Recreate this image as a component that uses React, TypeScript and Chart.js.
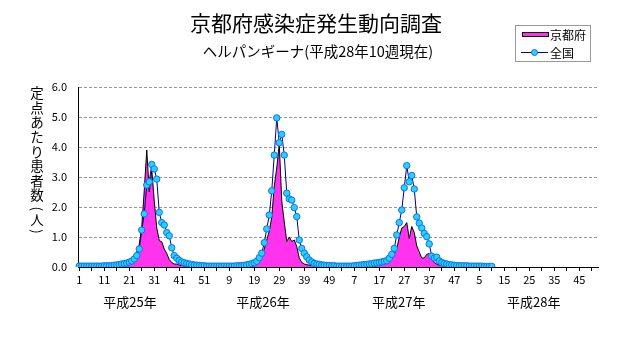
import React, { useEffect, useRef } from 'react';
import { Chart, registerables } from 'chart.js';

Chart.register(...registerables);

const FONT = "'Noto Sans CJK JP', 'Noto Sans', sans-serif";

const TITLE = '京都府感染症発生動向調査';
const SUBTITLE = 'ヘルパンギーナ(平成28年10週現在)';
const Y_TITLE = '定点あたり患者数(人)';
const SERIES_NAMES = ['京都府', '全国'];
const YEAR_LABELS = ['平成25年', '平成26年', '平成27年', '平成28年'];
const WEEKS_PER_YEAR = 52;
const Y_TICKS = [0, 1, 2, 3, 4, 5, 6];

// 京都府 (定点あたり)
const kyoto2013 = [
  0.02, 0.02, 0.02, 0.02, 0.01, 0.01, 0.01, 0.02, 0.02, 0.02, 0.02, 0.02, 0.02,
  0.02, 0.03, 0.03, 0.03, 0.03, 0.04, 0.06, 0.1, 0.17, 0.25, 0.5, 0.75, 1.35,
  2.55, 3.9, 2.5, 3.25, 2.2, 1.3, 0.88, 0.84, 0.6, 0.45, 0.25, 0.15, 0.1, 0.1,
  0.06, 0.05, 0.04, 0.03, 0.03, 0.02, 0.02, 0.02, 0.02, 0.01, 0.01, 0.01,
];
const kyoto2014 = [
  0.01, 0.01, 0.01, 0.01, 0.01, 0.01, 0.01, 0.01, 0.01, 0.01, 0.02, 0.02, 0.02,
  0.03, 0.04, 0.05, 0.07, 0.1, 0.14, 0.2, 0.3, 0.4, 0.6, 0.9, 1.2, 1.65,
  2.7, 3.3, 4.1, 2.2, 1.5, 0.85, 1.0, 0.85, 0.9, 0.68, 0.3, 0.15, 0.1, 0.08,
  0.06, 0.05, 0.04, 0.03, 0.03, 0.02, 0.02, 0.02, 0.01, 0.01, 0.01, 0.01,
];
const kyoto2015 = [
  0.01, 0.01, 0.01, 0.01, 0.01, 0.01, 0.01, 0.01, 0.01, 0.01, 0.02, 0.02, 0.02,
  0.02, 0.04, 0.05, 0.06, 0.08, 0.1, 0.15, 0.2, 0.3, 0.45, 0.6, 1.0, 1.3,
  1.35, 1.48, 0.95, 1.35, 1.15, 0.7, 0.5, 0.3, 0.3, 0.42, 0.45, 0.25, 0.15, 0.1,
  0.06, 0.05, 0.03, 0.03, 0.02, 0.02, 0.02, 0.01, 0.01, 0.01, 0.01, 0.01,
];
const kyoto2016 = [0.01, 0.01, 0.01, 0.01, 0.01, 0.01, 0.01, 0.01, 0.01, 0.01];

// 全国 (定点あたり)
const national2013 = [
  0.03, 0.03, 0.03, 0.03, 0.03, 0.03, 0.03, 0.03, 0.03, 0.03, 0.04, 0.04, 0.04,
  0.05, 0.06, 0.07, 0.08, 0.1, 0.11, 0.13, 0.16, 0.2, 0.27, 0.38, 0.6, 1.23,
  1.77, 2.73, 2.84, 3.42, 3.27, 2.93, 1.82, 1.48, 1.4, 1.15, 1.04, 0.64, 0.38, 0.29,
  0.22, 0.17, 0.14, 0.12, 0.1, 0.08, 0.07, 0.06, 0.05, 0.04, 0.04, 0.03,
];
const national2014 = [
  0.03, 0.03, 0.03, 0.03, 0.03, 0.03, 0.03, 0.03, 0.03, 0.03, 0.03, 0.04, 0.04,
  0.05, 0.06, 0.07, 0.09, 0.11, 0.14, 0.19, 0.31, 0.46, 0.81, 1.27, 1.73, 2.54,
  3.73, 4.97, 4.14, 4.42, 3.73, 2.46, 2.27, 2.23, 1.98, 1.68, 0.9, 0.62, 0.46, 0.34,
  0.23, 0.17, 0.12, 0.1, 0.09, 0.07, 0.06, 0.05, 0.05, 0.04, 0.04, 0.03,
];
const national2015 = [
  0.03, 0.03, 0.03, 0.03, 0.03, 0.03, 0.04, 0.05, 0.06, 0.07, 0.08, 0.09, 0.1,
  0.11, 0.13, 0.14, 0.15, 0.17, 0.19, 0.21, 0.29, 0.42, 0.62, 1.07, 1.48, 1.9,
  2.64, 3.38, 2.84, 3.05, 2.6, 1.67, 1.46, 1.3, 1.12, 1.01, 0.77, 0.36, 0.3, 0.33,
  0.2, 0.15, 0.12, 0.1, 0.08, 0.07, 0.06, 0.05, 0.04, 0.04, 0.04, 0.04,
];
const national2016 = [0.03, 0.03, 0.03, 0.03, 0.03, 0.03, 0.02, 0.02, 0.02, 0.02];

const weekLabels: string[] = [];
for (let y = 0; y < YEAR_LABELS.length; y++) {
  for (let w = 1; w <= WEEKS_PER_YEAR; w++) weekLabels.push(String(w));
}

const kyotoData = [...kyoto2013, ...kyoto2014, ...kyoto2015, ...kyoto2016];
const nationalData = [...national2013, ...national2014, ...national2015, ...national2016];

const PINK = '#FF33EE';
const NAVY = '#000080';
const DOT_FILL = '#33CCFF';
const DOT_EDGE = '#0077EE';

const decorPlugin = {
  id: 'decor',
  afterDraw(chart: any) {
    const ctx = chart.ctx as CanvasRenderingContext2D;
    const area = chart.chartArea;
    ctx.save();
    ctx.fillStyle = '#000';
    ctx.textBaseline = 'middle';

    // title & subtitle
    ctx.textAlign = 'center';
    ctx.font = `21px ${FONT}`;
    ctx.fillText(TITLE, 316, 23);
    ctx.font = `14.5px ${FONT}`;
    ctx.fillText(SUBTITLE, 318, 51);

    // y axis title (vertical)
    ctx.font = `13.5px ${FONT}`;
    const chars = Array.from(Y_TITLE);
    const step = 14.6;
    let cy = area.top + 6;
    const cx = 37;
    for (const ch of chars) {
      if (ch === '(' || ch === ')') {
        ctx.save();
        ctx.translate(cx, cy - (ch === '(' ? 1 : 3));
        ctx.rotate(Math.PI / 2);
        ctx.fillText(ch, 0, 0);
        ctx.restore();
        cy += step * 0.7;
      } else {
        ctx.fillText(ch, cx, cy);
        cy += step;
      }
    }

    // year labels
    ctx.font = `13px ${FONT}`;
    const xs = chart.scales.x;
    const yearCentersWeek = [20.3, 21.5, 23.8, 25.8];
    const cat = xs.width / weekLabels.length;
    YEAR_LABELS.forEach((lab, k) => {
      const idx = k * WEEKS_PER_YEAR + yearCentersWeek[k];
      const px = xs.getPixelForValue(Math.floor(idx)) + (idx % 1) * cat;
      ctx.fillText(lab, px, 302);
    });

    // legend box
    ctx.fillStyle = '#fff';
    ctx.fillRect(515.5, 25.5, 75, 36);
    ctx.strokeStyle = '#999';
    ctx.lineWidth = 1;
    ctx.strokeRect(515.5, 25.5, 75, 36);

    ctx.fillStyle = PINK;
    ctx.fillRect(522.5, 32.5, 26, 4);
    ctx.strokeStyle = '#000';
    ctx.strokeRect(522.5, 32.5, 26, 4);

    ctx.strokeStyle = NAVY;
    ctx.beginPath();
    ctx.moveTo(521, 52.5);
    ctx.lineTo(548, 52.5);
    ctx.stroke();
    ctx.beginPath();
    ctx.arc(534.5, 52.5, 3, 0, Math.PI * 2);
    ctx.fillStyle = DOT_FILL;
    ctx.fill();
    ctx.strokeStyle = DOT_EDGE;
    ctx.stroke();

    ctx.fillStyle = '#000';
    ctx.textAlign = 'left';
    ctx.font = `12px ${FONT}`;
    ctx.fillText(SERIES_NAMES[0], 550, 35);
    ctx.fillText(SERIES_NAMES[1], 550, 53);
    ctx.restore();
  },
};

export default function App() {
  const ref = useRef<HTMLCanvasElement | null>(null);
  useEffect(() => {
    if (!ref.current) return;
    const chart = new Chart(ref.current, {
      type: 'line',
      data: {
        labels: weekLabels,
        datasets: [
          {
            label: SERIES_NAMES[1],
            data: nationalData,
            borderColor: NAVY,
            borderWidth: 1,
            pointRadius: 3.2,
            pointBackgroundColor: DOT_FILL,
            pointBorderColor: DOT_EDGE,
            pointBorderWidth: 1,
            fill: false,
            tension: 0,
          },
          {
            label: SERIES_NAMES[0],
            data: kyotoData,
            borderColor: '#000',
            borderWidth: 1,
            backgroundColor: PINK,
            pointRadius: 0,
            fill: 'origin',
            tension: 0,
          },
        ],
      },
      options: {
        responsive: false,
        animation: false,
        events: [],
        layout: { padding: { left: 0, top: 87, right: 33, bottom: 60 } },
        plugins: {
          legend: { display: false },
          title: { display: false },
          tooltip: { enabled: false },
        },
        scales: {
          x: {
            type: 'category',
            offset: true,
            grid: {
              display: true,
              drawOnChartArea: false,
              drawTicks: true,
              tickLength: 4,
              color: '#000',
              offset: false,
            },
            border: { display: true, color: '#000', width: 1 },
            ticks: {
              autoSkip: false,
              maxRotation: 0,
              minRotation: 0,
              padding: 2,
              color: '#000',
              font: { size: 11, family: FONT },
              callback: (_v: any, i: number) =>
                i % 5 === 0 ? (i % 10 === 0 ? weekLabels[i] : '') : null,
            },
            afterFit: (s: any) => {
              s.height = 20;
            },
          },
          y: {
            min: 0,
            max: 6,
            afterBuildTicks: (s: any) => {
              s.ticks = Y_TICKS.map((v) => ({ value: v }));
            },
            ticks: {
              padding: 11,
              color: '#000',
              font: { size: 11, family: FONT },
              callback: (v: any) => Number(v).toFixed(1),
            },
            grid: { color: '#999', drawTicks: false, lineWidth: 1 },
            border: { display: true, color: '#000', width: 1, dash: [3, 2] },
            afterFit: (s: any) => {
              s.width = 78;
            },
          },
        },
      },
      plugins: [decorPlugin],
    });
    return () => chart.destroy();
  }, []);
  return (
    <div style={{ position: 'fixed', left: 0, top: 0, width: 631, height: 347, background: '#fff' }}>
      <canvas ref={ref} width={631} height={347} style={{ width: 631, height: 347, display: 'block' }} />
    </div>
  );
}
